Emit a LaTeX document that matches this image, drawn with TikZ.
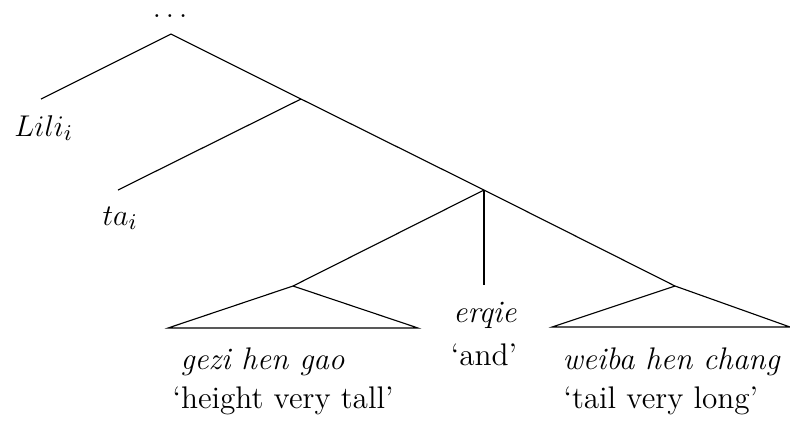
\documentclass[tikz,border=0pt]{standalone}
\begin{document}
\begin{tikzpicture}[x=0.4pt,y=-0.4pt,
  lbl/.style={inner sep=0pt,font=\fontsize{12.5}{15}\selectfont},
  edge/.style={line width=0.45pt}]
\useasboundingbox (0,0) rectangle (790,423);
% tree points
\coordinate (root) at (171,34);
\coordinate (n1) at (301,99);
\coordinate (n2) at (484,190);
\coordinate (lend) at (41,99);
\coordinate (tend) at (118,190);
\coordinate (ga) at (293,286);
\coordinate (gl) at (168,328);
\coordinate (gr) at (418,328);
\coordinate (eend) at (484,285);
\coordinate (wa) at (675,286);
\coordinate (wl) at (552,327);
\coordinate (wr) at (790,327);
% labels
\node[lbl,anchor=base] (dots) at (170,17) {$\ldots$};
\node[lbl,anchor=base west] (lili) at (14,136) {$Lili_i$};
\node[lbl,anchor=base west] (ta) at (102,225) {$ta_i$};
\node[lbl,anchor=base] (erqie) at (485,322) {\textit{erqie}};
\node[lbl,anchor=base] (and) at (484,365) {`and'};
\node[lbl,anchor=base west] (gezi) at (180,369) {\textit{gezi hen gao}};
\node[lbl,anchor=base west] (gezig) at (172,408) {`height very tall'};
\node[lbl,anchor=base west] (weiba) at (562,369) {\textit{weiba hen chang}};
\node[lbl,anchor=base west] (weibag) at (563,408) {`tail very long'};
% edges
\draw[edge] (lend) -- (root) -- (n1) -- (n2) -- (wa);
\draw[edge] (n1) -- (tend);
\draw[edge] (n2) -- (ga);
\draw[edge] (n2) -- (eend);
\draw[edge] (ga) -- (gl) -- (gr) -- cycle;
\draw[edge] (wa) -- (wl) -- (wr) -- cycle;
\end{tikzpicture}
\end{document}
